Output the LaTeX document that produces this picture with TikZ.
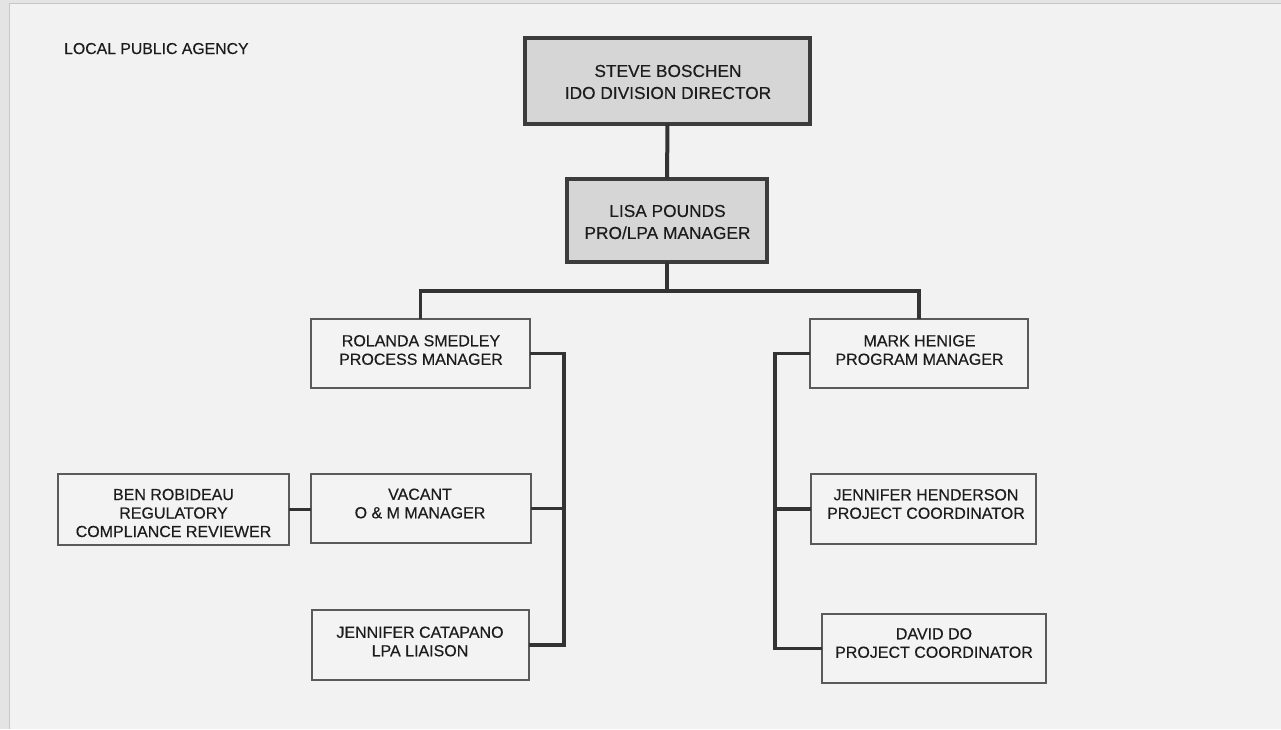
\documentclass[tikz,border=0pt]{standalone}
\usepackage{fontspec}
\setmainfont{Liberation Sans}[BoldFont=Liberation Sans, BoldFeatures={FakeBold=0.35}]
\definecolor{pagebg}{HTML}{F2F2F2}
\definecolor{pageedge}{HTML}{E4E4E4}
\definecolor{topfill}{HTML}{D6D6D6}
\definecolor{topline}{HTML}{3C3C3C}
\definecolor{lowline}{HTML}{5A5A5A}
\definecolor{lowfill}{HTML}{F3F3F3}
\definecolor{conn}{HTML}{333333}
\definecolor{txt}{HTML}{1C1C1C}
\begin{document}
\begin{tikzpicture}[x=1pt,y=-1pt,
  topbox/.style={draw=topline, line width=4pt, fill=topfill, inner sep=0pt, outer sep=0pt},
  lowbox/.style={draw=lowline, line width=1.8pt, fill=lowfill, inner sep=0pt, outer sep=0pt},
  toptext/.style={align=center, text=txt, inner sep=0pt, font=\fontsize{17.3}{22}\selectfont\bfseries},
  lowtext/.style={align=center, text=txt, inner sep=0pt, font=\fontsize{16}{18.5}\selectfont\bfseries},
  mainconn/.style={draw=conn, line width=4pt},
  subconn/.style={draw=conn, line width=3.3pt, line join=miter}]
\useasboundingbox (0,0) rectangle (1281,729);
\fill[pageedge] (0,0) rectangle (1281,729);
\fill[pagebg] (9,3) rectangle (1281,729);
\draw[line width=1pt, draw=black!22] (9,729) -- (9,3) -- (1281,3);

\node[anchor=base west, text=txt, inner sep=0pt, font=\fontsize{15.8}{18}\selectfont\bfseries] (title) at (64,54) {LOCAL PUBLIC AGENCY};

% boxes
\node[topbox, minimum width=285, minimum height=86] (steve) at (667.5,81) {};
\node[topbox, minimum width=200, minimum height=83] (lisa) at (667,220.5) {};
\node[lowbox, minimum width=219, minimum height=69] (rolanda) at (420.5,353.5) {};
\node[lowbox, minimum width=218, minimum height=69] (mark) at (919,353.5) {};
\node[lowbox, minimum width=231, minimum height=71] (ben) at (173.5,509.5) {};
\node[lowbox, minimum width=220, minimum height=69] (vacant) at (421,508.5) {};
\node[lowbox, minimum width=217, minimum height=70] (catapano) at (420.5,645) {};
\node[lowbox, minimum width=225, minimum height=70] (henderson) at (923.5,509) {};
\node[lowbox, minimum width=224, minimum height=69] (david) at (934,648.5) {};

% texts
\node[toptext] (steve-t) at (668,82) {STEVE BOSCHEN\\IDO DIVISION DIRECTOR};
\node[toptext] (lisa-t) at (667.5,222) {LISA POUNDS\\PRO/LPA MANAGER};
\node[lowtext] (rolanda-t) at (421,350) {ROLANDA SMEDLEY\\PROCESS MANAGER};
\node[lowtext] (mark-t) at (919.5,350) {MARK HENIGE\\PROGRAM MANAGER};
\node[lowtext] (ben-t) at (173.5,513) {BEN ROBIDEAU\\REGULATORY\\COMPLIANCE REVIEWER};
\node[lowtext] (vacant-t) at (420,503.5) {VACANT\\O \& M MANAGER};
\node[lowtext] (catapano-t) at (420,641.5) {JENNIFER CATAPANO\\LPA LIAISON};
\node[lowtext] (henderson-t) at (926,504) {JENNIFER HENDERSON\\PROJECT COORDINATOR};
\node[lowtext] (david-t) at (934,643) {DAVID DO\\PROJECT COORDINATOR};

% connectors
\coordinate (bus) at (667,291);
\coordinate (lspine) at (564,0);
\coordinate (rspine) at (775,0);
\draw[mainconn] (steve.south) -- (lisa.north);
\draw[subconn] (lisa.south) -- (bus);
\draw[subconn] (rolanda.north) |- (bus) -| (mark.north);
\draw[subconn] (rolanda.east) -- (rolanda.east -| lspine) -- (catapano.east -| lspine) -- (catapano.east);
\draw[subconn] (vacant.east) -- (vacant.east -| lspine);
\draw[subconn] (ben.east) -- (ben.east -| vacant.west);
\draw[subconn] (mark.west) -- (mark.west -| rspine) -- (david.west -| rspine) -- (david.west);
\draw[subconn] (henderson.west) -- (henderson.west -| rspine);
\end{tikzpicture}
\end{document}
